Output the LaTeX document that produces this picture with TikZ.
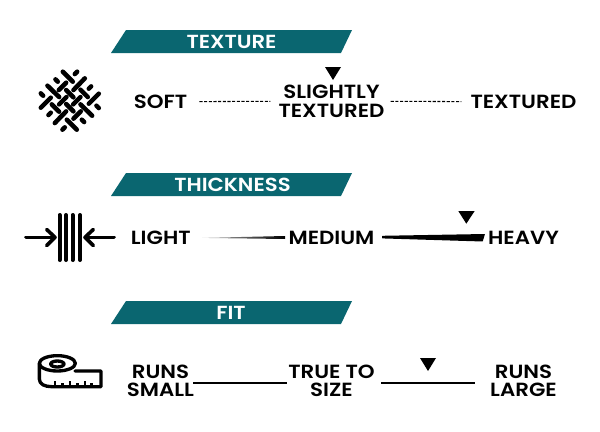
\documentclass[tikz,border=0pt]{standalone}
\usepackage{fontspec}
\setmainfont{Poppins}[FakeStretch=1.1,BoldFont={Poppins SemiBold},BoldFeatures={FakeStretch=1.12}]
\begin{document}
\definecolor{teal1}{HTML}{0A6670}
\tikzset{
  banner/.style={fill=teal1,draw=none},
  bannertext/.style={font=\fontsize{14.2}{16}\selectfont\bfseries,text=white,inner sep=0pt},
  label/.style={font=\fontsize{14.3}{13.6}\selectfont\bfseries,text=black,align=center,inner sep=0pt},
  marker/.style={fill=black,draw=none},
  weave/.style={line width=3.4pt,line cap=round,black},
  bar/.style={line width=3pt,line cap=round,black},
  arrowline/.style={line width=2.7pt,line cap=round,line join=round,black},
  tape/.style={line width=2.5pt,line cap=round,line join=round,black},
  tick/.style={line width=1.9pt,black},
  dotline/.style={line width=0.8pt,dash pattern=on 2.3pt off 1.2pt,black},
  fitline/.style={line width=1.5pt,black}
}
\begin{tikzpicture}[x=0.75pt,y=-0.75pt]
\useasboundingbox (0,0) rectangle (600,432);
% banners
\fill[banner] (111,53) -- (126,30) -- (352,30) -- (341,53) -- cycle;
\fill[banner] (111,196) -- (126,173) -- (352,173) -- (341,196) -- cycle;
\fill[banner] (111,324) -- (126,301) -- (352,301) -- (341,324) -- cycle;
\node[bannertext] (t1) at (231.5,42) {TEXTURE};
\node[bannertext] (t2) at (232.5,185) {THICKNESS};
\node[bannertext] (t3) at (231,313) {FIT};
% labels
\node[label] (soft) at (160.5,101.6) {SOFT};
\node[label] (slight) at (331.5,101.3) {SLIGHTLY\\TEXTURED};
\node[label] (textured) at (523.5,101.6) {TEXTURED};
\node[label] (light) at (160.8,237.6) {LIGHT};
\node[label] (medium) at (331.5,237.6) {MEDIUM};
\node[label] (heavy) at (523.5,237.6) {HEAVY};
\node[label] (small) at (160.5,381) {RUNS\\SMALL};
\node[label] (true) at (331.5,381) {TRUE TO\\SIZE};
\node[label] (large) at (523.5,381) {RUNS\\LARGE};
% texture connectors
\draw[dotline] ([xshift=9pt]soft.east) -- ([xshift=-6pt]slight.west);
\draw[dotline] ([xshift=4.5pt]slight.east) -- ([xshift=-6.75pt]textured.west);
% markers
\fill[marker] (325,67) -- (341,67) -- (333,80) -- cycle;
\fill[marker] (458.3,211) -- (474.7,211) -- (466.3,223.7) -- cycle;
\fill[marker] (420,358) -- (436,358) -- (428,371) -- cycle;
% thickness wedges
\coordinate (w1a) at (202,237.9);
\coordinate (w1b) at (285,236);
\coordinate (w1c) at (285,239);
\shade[left color=gray!50,middle color=black!95,right color=black] (w1a) -- (w1b) -- (w1c) -- cycle;
\fill[black,rounded corners=0.4pt] (382,235.8) -- (485,234) -- (482.7,241.5) -- (382,238.4) -- cycle;
% fit connectors
\coordinate (f1a) at (193,382.7);
\coordinate (f1b) at (287,382.7);
\coordinate (f2a) at (381,382.7);
\coordinate (f2b) at (475,382.7);
\draw[fitline] (f1a) -- (f1b);
\draw[fitline] (f2a) -- (f2b);
% weave icon
\begin{scope}[shift={(69.8,100.7)},x=0.25pt,y=-0.25pt]
\foreach \r in {0,90,180,270}{
 \begin{scope}[rotate=\r]
  \draw[weave] (-21,-87) -- (9,-57);
  \draw[weave] (15,-80) -- (22,-87);
  \draw[weave] (-67,-45) -- (-32,-11);
  \draw[weave] (-43,-64) -- (-36,-57);
  \draw[weave] (-33,-32) -- (-11,-54);
  \draw[weave] (-11,-32) -- (11,-10);
 \end{scope}
}
\end{scope}
% thickness icon
\foreach \x in {59.5,66,72.5,80} \draw[bar] (\x,215) -- (\x,260);
\draw[arrowline] (26,237.3) -- (54,237.3);
\draw[arrowline] (46.7,229.5) -- (55,237.3) -- (46.7,245.5);
\draw[arrowline] (114,237.3) -- (86,237.3);
\draw[arrowline] (93.3,229.5) -- (85,237.3) -- (93.3,245.5);
% tape icon
\begin{scope}[shift={(25,345)},x=0.25pt,y=-0.25pt]
\draw[tape] (97,55) ellipse [x radius=54,y radius=23];
\draw[tape] (97,57) ellipse [x radius=20,y radius=9];
\draw[tape] (43,55) -- (43,102) .. controls (43,118) and (60,125) .. (80,125) -- (228,125) -- (228,78) -- (150,78);
\foreach \x/\y in {90/108,112/115,135/108,157/115,180/108,200/115}
  \draw[tick] (\x,125) -- (\x,\y);
\end{scope}
\end{tikzpicture}
\end{document}
